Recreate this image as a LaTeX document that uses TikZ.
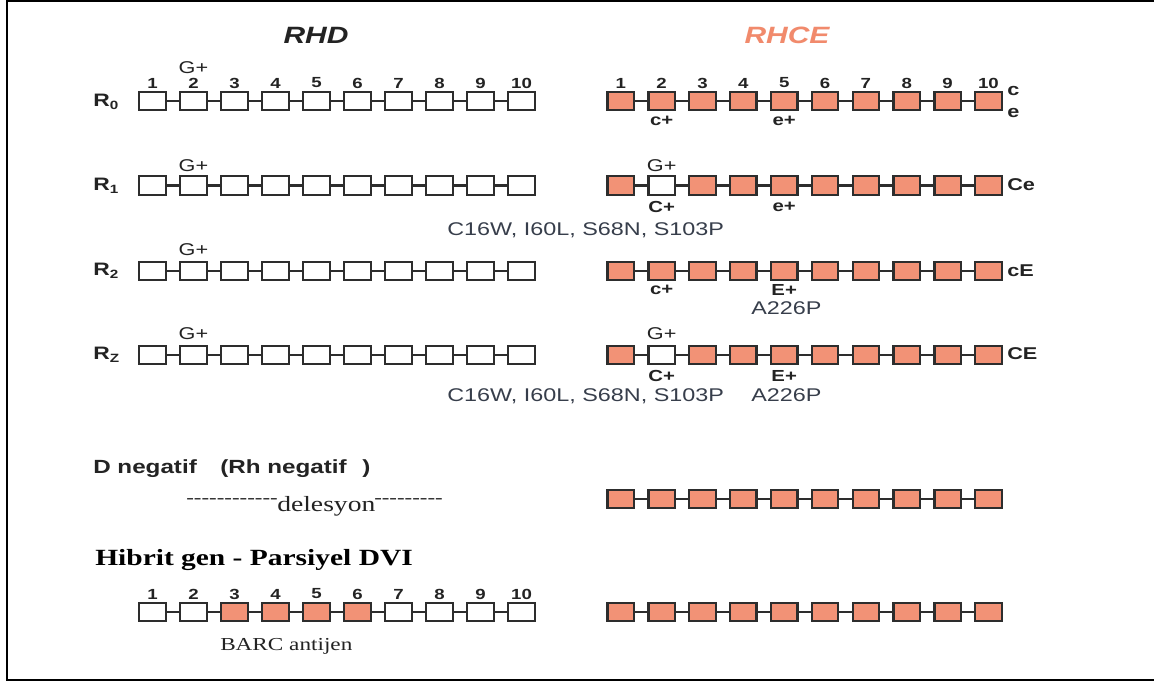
\documentclass[tikz,border=0pt]{standalone}
\usepackage{fontspec}
\setmainfont{Liberation Sans}[FakeStretch=1.27]
\newfontfamily\serifw{Liberation Serif}[FakeStretch=1.27]
\definecolor{salmon}{RGB}{242,146,118}
\definecolor{titlesalmon}{RGB}{241,138,108}
\definecolor{boxline}{RGB}{45,45,45}
\definecolor{txtdark}{RGB}{35,35,35}
\definecolor{mutcol}{RGB}{55,62,75}
\newcommand\mkgenrow[5]{%
  \foreach \st [count=\i] in {#5}{%
    \node[genebox, fill=\st] (#1-\i) at ({#2+(\i-1)*#3},#4) {};
  }%
  \foreach \i in {1,...,9}{%
    \pgfmathtruncatemacro\j{\i+1}%
    \draw[genelink] (#1-\i) -- (#1-\j);
  }%
}
\newcommand\mknums[4]{%
  \foreach \i in {1,...,10}{%
    \node[numlab] (#1-\i) at ({#2+(\i-1)*#3},#4) {\i};
  }%
}
\newcommand\rsub[1]{\raisebox{-0.35ex}{\fontsize{9}{9}\selectfont #1}}
\begin{document}
\begin{tikzpicture}[x=0.75pt,y=-0.75pt,
  genebox/.style={draw=boxline, line width=1.7pt, minimum width=19.8pt, minimum height=13.8pt, inner sep=0pt},
  genelink/.style={draw=boxline, line width=2.2pt},
  titlelab/.style={font=\fontsize{17.7}{20}\selectfont\bfseries\itshape, inner sep=0pt},
  rowlab/.style={font=\fontsize{13.5}{15}\selectfont\bfseries, text=txtdark, inner sep=0pt, anchor=west},
  numlab/.style={font=\fontsize{11}{12}\selectfont\bfseries, text=txtdark, inner sep=0pt},
  glab/.style={font=\fontsize{12.8}{14}\selectfont, text=txtdark, inner sep=0pt},
  sublab/.style={font=\fontsize{12}{13}\selectfont\bfseries, text=txtdark, inner sep=0pt},
  sidelab/.style={font=\fontsize{12.8}{14}\selectfont\bfseries, text=txtdark, inner sep=0pt, anchor=west},
  mutlab/.style={font=\fontsize{13.8}{15}\selectfont, text=mutcol, inner sep=0pt, anchor=base west},
  negl/.style={font=\fontsize{14.3}{16}\selectfont\bfseries, text=txtdark, inner sep=0pt, anchor=base west},
  serifbold/.style={font=\serifw\fontsize{17.4}{20}\selectfont\bfseries, text=black, inner sep=0pt, anchor=base west},
  serifreg/.style={font=\serifw\fontsize{16.3}{18}\selectfont, text=txtdark, inner sep=0pt, anchor=base west},
  serifsmall/.style={font=\serifw\fontsize{13.7}{15}\selectfont, text=txtdark, inner sep=0pt, anchor=base west},
  dashlab/.style={font=\serifw\fontsize{13.5}{14}\selectfont, text=txtdark, inner sep=0pt},
]
\useasboundingbox (0,0) rectangle (1154,682);
\fill[white] (0,0) rectangle (1154,682);
% frame
\draw[line width=1.5pt, black] (1154,1) -- (7,1) -- (7,680) -- (1154,680);

% titles
\node[titlelab, text=txtdark] (tRHD) at (316,35) {RHD};
\node[titlelab, text=titlesalmon] (tRHCE) at (787,35) {RHCE};

% row labels
\node[rowlab] (lR0) at (93,102) {R\rsub{0}};
\node[rowlab] (lR1) at (93,185.5) {R\rsub{1}};
\node[rowlab] (lR2) at (93,271) {R\rsub{2}};
\node[rowlab] (lRz) at (93,355) {R\rsub{Z}};

% RHD rows
\mkgenrow{L0}{152.5}{41}{101}{white,white,white,white,white,white,white,white,white,white}
\mkgenrow{L1}{152.5}{41}{185.5}{white,white,white,white,white,white,white,white,white,white}
\mkgenrow{L2}{152.5}{41}{271}{white,white,white,white,white,white,white,white,white,white}
\mkgenrow{Lz}{152.5}{41}{355}{white,white,white,white,white,white,white,white,white,white}
\mkgenrow{Lh}{152.5}{41}{612}{white,white,salmon,salmon,salmon,salmon,white,white,white,white}

% RHCE rows
\mkgenrow{C0}{620.8}{40.85}{101}{salmon,salmon,salmon,salmon,salmon,salmon,salmon,salmon,salmon,salmon}
\mkgenrow{C1}{620.8}{40.85}{185.5}{salmon,white,salmon,salmon,salmon,salmon,salmon,salmon,salmon,salmon}
\mkgenrow{C2}{620.8}{40.85}{271}{salmon,salmon,salmon,salmon,salmon,salmon,salmon,salmon,salmon,salmon}
\mkgenrow{Cz}{620.8}{40.85}{355}{salmon,white,salmon,salmon,salmon,salmon,salmon,salmon,salmon,salmon}
\mkgenrow{Cn}{620.8}{40.85}{499}{salmon,salmon,salmon,salmon,salmon,salmon,salmon,salmon,salmon,salmon}
\mkgenrow{Ch}{620.8}{40.85}{612}{salmon,salmon,salmon,salmon,salmon,salmon,salmon,salmon,salmon,salmon}

% exon numbers
\mknums{nL0}{152.5}{41}{83}
\mknums{nC0}{620.8}{40.85}{83}
\mknums{nLh}{152.5}{41}{594}

% G+ labels
\node[glab] (gL0) at (193.5,67.5) {G+};
\node[glab] (gL1) at (193.5,166) {G+};
\node[glab] (gL2) at (193.5,250) {G+};
\node[glab] (gLz) at (193.5,334) {G+};
\node[glab] (gC1) at (661.7,166) {G+};
\node[glab] (gCz) at (661.7,334) {G+};

% RHCE antigen labels
\node[sublab] (s0a) at (661.7,121) {c+};
\node[sublab] (s0b) at (784.2,121) {e+};
\node[sublab] (s1a) at (661.7,207) {C+};
\node[sublab] (s1b) at (784.2,207) {e+};
\node[sublab] (s2a) at (661.7,290) {c+};
\node[sublab] (s2b) at (784.2,290) {E+};
\node[sublab] (sza) at (661.7,375.5) {C+};
\node[sublab] (szb) at (784.2,375.5) {E+};

% side labels
\node[sidelab] (side0a) at (1007,91) {c};
\node[sidelab] (side0b) at (1007,113) {e};
\node[sidelab] (side1) at (1007,185) {Ce};
\node[sidelab] (side2) at (1007,271) {cE};
\node[sidelab] (sidez) at (1007,354) {CE};

% mutations
\node[mutlab] (m1) at (447,235) {C16W, I60L, S68N, S103P};
\node[mutlab] (m2) at (751,314.5) {A226P};
\node[mutlab] (mz1) at (447,401.5) {C16W, I60L, S68N, S103P};
\node[mutlab] (mz2) at (751,401.5) {A226P};

% D negatif
\node[negl] (dn1) at (93,473) {D negatif};
\node[negl] (dn2) at (220,473) {(Rh negatif};
\node[negl] (dn3) at (362,473) {)};
\node[dashlab, anchor=east] (dashl) at (278,501) {------------};
\node[serifreg] (deles) at (277,511.5) {delesyon};
\node[dashlab, anchor=west] (dashr) at (374,501) {---------};

% hybrid
\node[serifbold] (hib) at (95,565) {Hibrit gen - Parsiyel DVI};
\node[serifsmall] (barc) at (220,650) {BARC antijen};
\end{tikzpicture}
\end{document}
